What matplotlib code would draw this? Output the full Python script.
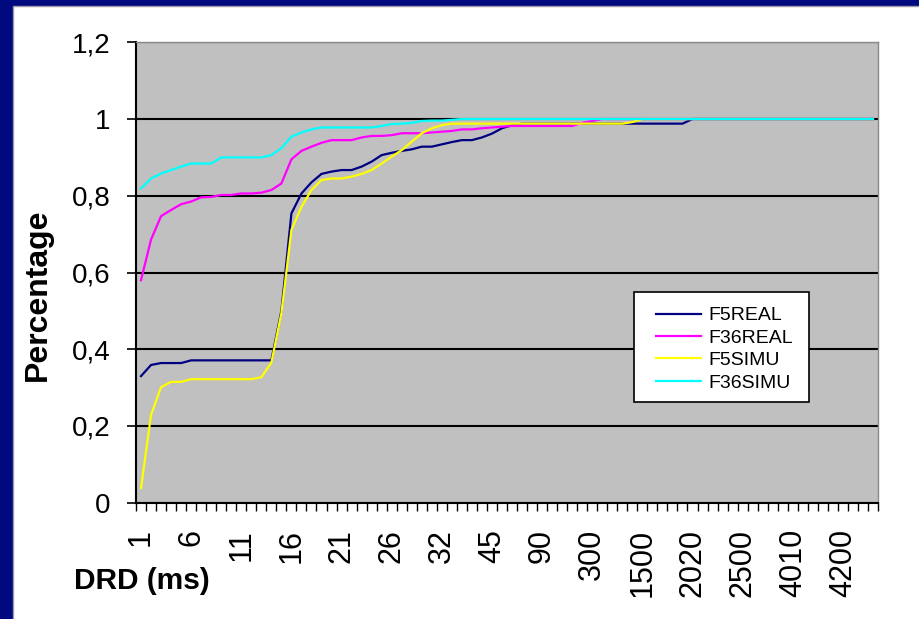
import numpy as np
import matplotlib
matplotlib.use("Agg")
import matplotlib.pyplot as plt
from matplotlib.patches import Rectangle
from matplotlib.ticker import FixedLocator

plt.rcParams['font.family'] = ['Liberation Sans', 'DejaVu Sans']

# DRD categories (ms) along the x axis
categories = [
    1, 2, 3, 4, 5, 6, 7, 8, 9, 10, 11, 12, 13, 14, 15, 16, 17, 18, 19, 20,
    21, 22, 23, 24, 25, 26, 27, 28, 29, 30, 32, 34, 36, 38, 40, 45,
    50, 60, 70, 80, 90, 100, 150, 200, 250, 300, 400, 600, 800, 1000, 1500,
    1600, 1700, 1800, 1900, 2020, 2100, 2200, 2300, 2400, 2500,
    2800, 3000, 3500, 3800, 4010, 4050, 4100, 4130, 4160, 4200,
    4300, 4400, 4500,
]

f5_real = (
    [0.330, 0.359, 0.364, 0.364, 0.364, 0.371]
    + [0.371] * 8
    + [0.500, 0.754, 0.806, 0.835, 0.857, 0.863, 0.867, 0.867, 0.876, 0.889,
       0.906, 0.912, 0.917, 0.921, 0.928, 0.928, 0.934, 0.940, 0.945, 0.945,
       0.952, 0.962, 0.976, 0.984]
    + [0.988] * 17
    + [1.0] * 19
)

f36_real = (
    [0.580, 0.686, 0.747, 0.763, 0.778, 0.785, 0.796, 0.797, 0.802, 0.802,
     0.806, 0.806, 0.808, 0.815, 0.832, 0.895, 0.917, 0.928, 0.938, 0.945,
     0.945, 0.945, 0.952, 0.956, 0.956, 0.958, 0.963, 0.963, 0.963, 0.965,
     0.967, 0.969, 0.973, 0.973, 0.976, 0.978, 0.980]
    + [0.982] * 7
    + [0.990, 0.995]
    + [1.0] * 28
)

f5_simu = (
    [0.038, 0.229, 0.301, 0.315, 0.315, 0.322]
    + [0.322] * 6
    + [0.327, 0.365, 0.494, 0.711, 0.771, 0.815, 0.841, 0.845, 0.845, 0.850,
       0.857, 0.867, 0.884, 0.902, 0.919, 0.941, 0.963, 0.976, 0.984]
    + [0.988] * 18
    + [0.992]
    + [1.0] * 24
)

f36_simu = (
    [0.819, 0.845, 0.858, 0.867, 0.876, 0.884, 0.884, 0.884]
    + [0.900]
    + [0.900] * 4
    + [0.906, 0.924, 0.954, 0.965, 0.973]
    + [0.978] * 6
    + [0.982, 0.987, 0.988, 0.990, 0.995, 0.996, 0.996, 0.998]
    + [1.0] * 42
)

series_names = ["F5REAL", "F36REAL", "F5SIMU", "F36SIMU"]
series_values = [f5_real, f36_real, f5_simu, f36_simu]
series_colors = ["#000080", "#FF00FF", "#FFFF00", "#00FFFF"]

y_ticks = [0, 0.2, 0.4, 0.6, 0.8, 1.0, 1.2]
y_tick_labels = ["0", "0,2", "0,4", "0,6", "0,8", "1", "1,2"]
label_step = 5

W, H = 920, 619
fig = plt.figure(figsize=(W / 100, H / 100), dpi=100, facecolor="#00097E")

# white slide panel behind the chart
fig.patches.append(Rectangle((13 / W, -0.01), 1.0, 1 - 6 / H + 0.01,
                             transform=fig.transFigure, facecolor="white",
                             edgecolor="#9A9AA8", linewidth=1.0, zorder=-10))

ax = fig.add_axes([136 / W, 1 - 502.7 / H, 742 / W, 460.4 / H])
ax.set_facecolor("#C0C0C0")

x = np.arange(len(categories))
handles = []
for name, vals, col in zip(series_names, series_values, series_colors):
    h, = ax.plot(x, vals, color=col, linewidth=1.6, label=name, zorder=3,
                 solid_joinstyle="round")
    handles.append(h)

ax.set_xlim(-0.5, len(categories) - 0.5)
ax.set_ylim(0, 1.2)

# y axis
ax.set_yticks(y_ticks)
ax.set_yticklabels(y_tick_labels)
ax.tick_params(axis="y", which="major", direction="out", length=6.5, width=1.2,
               pad=12, labelsize=20, color="black")
ax.yaxis.grid(True, color="black", linewidth=1.5)
ax.set_axisbelow(True)

# x axis: tick marks between categories, labels every fifth category
label_pos = list(range(0, len(categories), label_step))
ax.set_xticks(label_pos)
ax.set_xticklabels([str(categories[i]) for i in label_pos], rotation=90)
ax.xaxis.set_minor_locator(FixedLocator(np.arange(-0.5, len(categories), 1.0)))
ax.tick_params(axis="x", which="major", length=0, pad=19, labelsize=22)
ax.tick_params(axis="x", which="minor", direction="out", length=6, width=1.0,
               color="black")

for side in ("left", "bottom"):
    ax.spines[side].set_color("black")
    ax.spines[side].set_linewidth(1.5)
for side in ("top", "right"):
    ax.spines[side].set_color("#8A8A8A")
    ax.spines[side].set_linewidth(1.0)

fig.text(38 / W, 1 - 295 / H, "Percentage", rotation=90, fontsize=23,
         fontweight="bold", ha="center", va="center")
fig.text(74 / W, 1 - 581 / H, "DRD (ms)", fontsize=21.5, fontweight="bold",
         ha="left", va="center")

# legend box
ax.add_patch(Rectangle((634 / W, 1 - 402 / H), 175 / W, 110 / H,
                       transform=fig.transFigure, facecolor="white",
                       edgecolor="black", linewidth=1.2, zorder=4))
leg = ax.legend(handles=handles, loc="upper left",
                bbox_to_anchor=(646 / W, 1 - 297 / H),
                bbox_transform=fig.transFigure, frameon=False, borderpad=0,
                fontsize=14, handlelength=2.35, handletextpad=0.35,
                labelspacing=0.25)
leg.set_zorder(5)
for t in leg.get_texts():
    t.set_color("black")

fig.savefig("out.png", dpi=100, facecolor=fig.get_facecolor())
